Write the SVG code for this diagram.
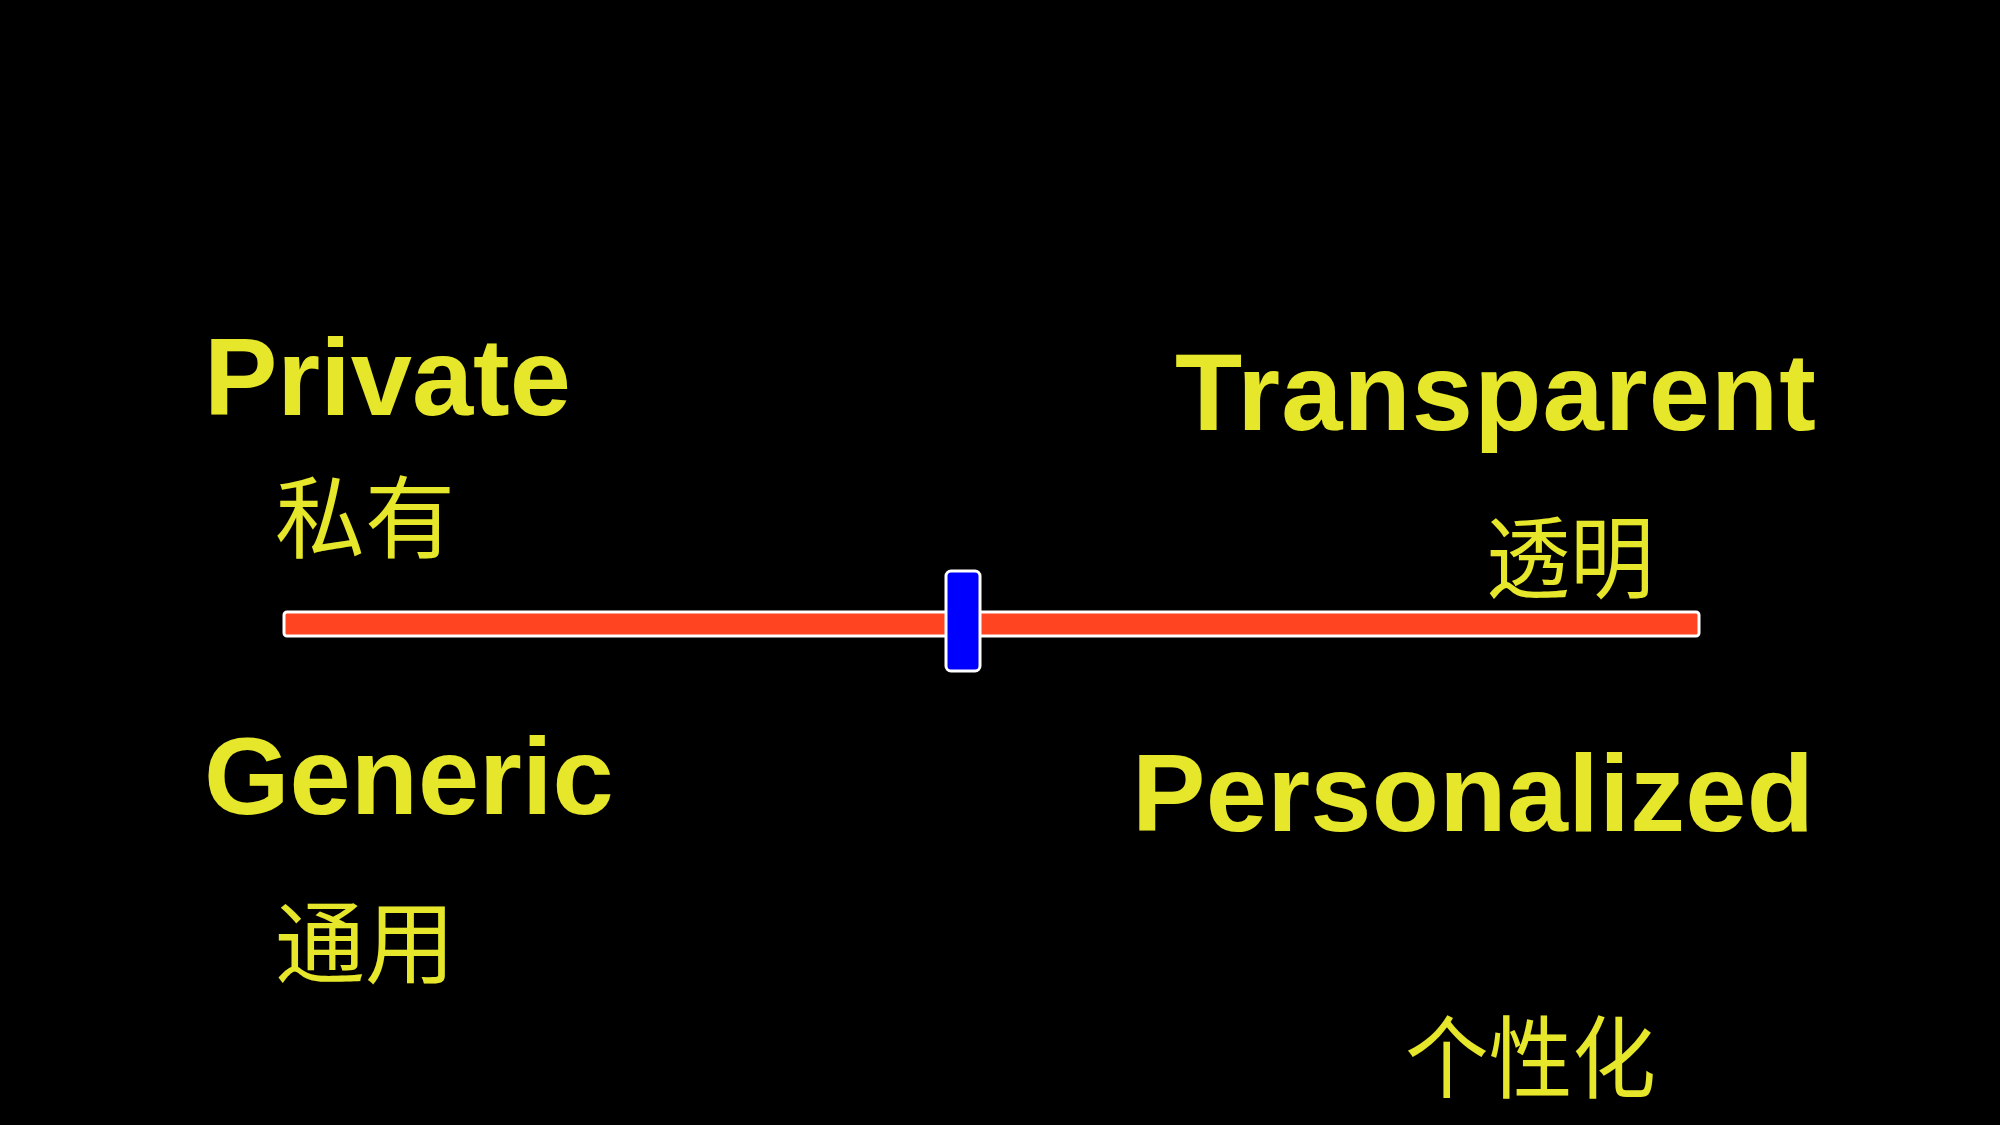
<svg xmlns="http://www.w3.org/2000/svg" width="2000" height="1125" viewBox="0 0 2000 1125">
<style>
.en{font-family:"Liberation Sans",Arial,sans-serif;font-weight:bold;font-size:110px;fill:#E6E62A}
.zh{font-family:"Noto Sans CJK SC","Noto Sans CJK TC",sans-serif;font-size:90px;fill:#E6E62A}
</style>
<rect x="0" y="0" width="2000" height="1125" fill="#000"/>
<g id="private"><text class="en" x="204" y="415">Private</text><text class="zh" x="275" y="551">私有</text></g>
<g id="transparent"><text class="en" x="1175" y="430" textLength="641">Transparent</text><text class="zh" x="1486" y="591" font-size="86" textLength="168" lengthAdjust="spacingAndGlyphs">透明</text></g>
<g id="generic"><text class="en" x="204" y="814">Generic</text><text class="zh" x="275" y="976">通用</text></g>
<g id="personalized"><text class="en" x="1132" y="831" textLength="682">Personalized</text><text class="zh" x="1405" y="1091" font-size="86" textLength="251" lengthAdjust="spacingAndGlyphs">个性化</text></g>
<g id="slider">
<rect x="284" y="612" width="1415" height="24" rx="3" fill="#FF4422" stroke="#FFFFFF" stroke-width="3"/>
<rect x="946" y="571" width="34" height="100" rx="5" fill="#0000FF" stroke="#FFFFFF" stroke-width="3"/>
</g>
</svg>
